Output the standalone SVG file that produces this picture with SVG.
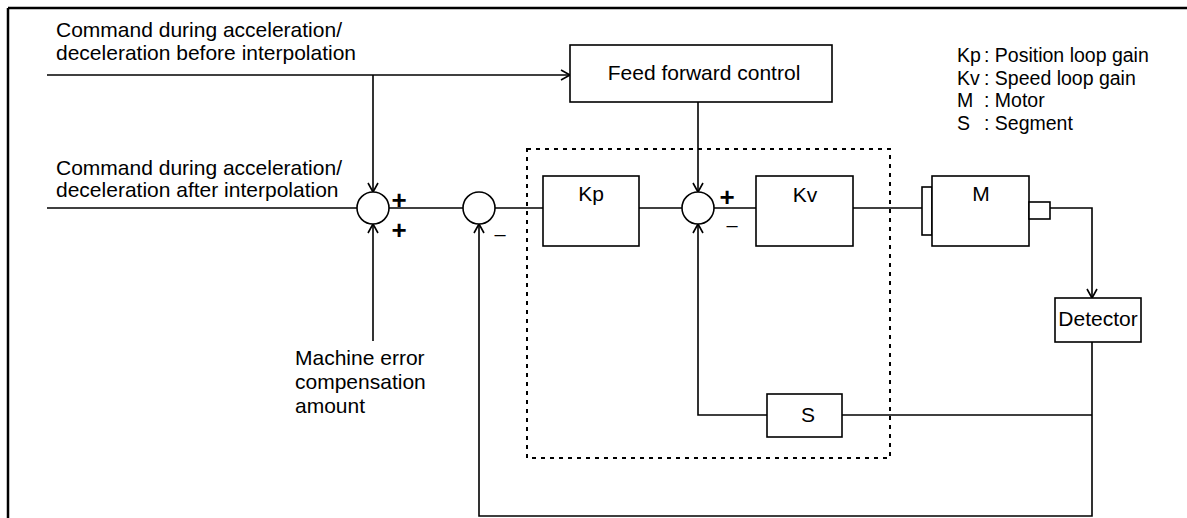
<svg xmlns="http://www.w3.org/2000/svg" width="1187" height="518" viewBox="0 0 1187 518">
<style>
text{font-family:"Liberation Sans",Arial,sans-serif;font-size:21px;fill:#000}
.c{text-anchor:middle}
.lg{font-size:19.5px}
.sg{font-weight:bold;font-size:26px;text-anchor:middle}
.mn{font-size:20px;text-anchor:middle}
.ln{fill:none;stroke:#000;stroke-width:1.6}
.bx{fill:#fff;stroke:#000;stroke-width:1.6}
.ar{fill:none;stroke:#000;stroke-width:1.6}
</style>
<defs>
<marker id="ah" markerWidth="12" markerHeight="12" refX="10" refY="6" orient="auto" markerUnits="userSpaceOnUse">
<path d="M1,1 L10,6 L1,11" fill="none" stroke="#000" stroke-width="1.6"/>
</marker>
</defs>
<g id="frame">
<path d="M8,8 H1187 M8,8 V518" fill="none" stroke="#000" stroke-width="2.5"/>
</g>
<g id="labels">
<text x="56" y="37">Command during acceleration/</text>
<text x="56" y="60">deceleration before interpolation</text>
<text x="56" y="175">Command during acceleration/</text>
<text x="56" y="197">deceleration after interpolation</text>
<text x="295" y="365">Machine error</text>
<text x="295" y="389">compensation</text>
<text x="295" y="413">amount</text>
</g>
<g id="legend">
<text class="lg"><tspan x="957" y="62">Kp</tspan><tspan x="984" y="62">: Position loop gain</tspan><tspan x="957" y="84.5">Kv</tspan><tspan x="984" y="84.5">: Speed loop gain</tspan><tspan x="957" y="107">M</tspan><tspan x="984" y="107">: Motor</tspan><tspan x="957" y="129.5">S</tspan><tspan x="984" y="129.5">: Segment</tspan></text>
</g>
<g id="controller-boundary">
<rect x="527" y="149" width="363" height="309" fill="none" stroke="#000" stroke-width="2" stroke-dasharray="4 5"/>
</g>
<g id="connectors">
<path class="ar" d="M47,75 H570" marker-end="url(#ah)"/>
<path class="ar" d="M373,75 V192" marker-end="url(#ah)"/>
<path class="ln" d="M47,208 H357"/>
<path class="ar" d="M373,341 V224" marker-end="url(#ah)"/>
<path class="ln" d="M389,208 H463"/>
<path class="ln" d="M495,208 H543"/>
<path class="ln" d="M639,208 H682"/>
<path class="ar" d="M698,102 V192" marker-end="url(#ah)"/>
<path class="ln" d="M714,208 H756"/>
<path class="ln" d="M853,208 H922"/>
<path class="ar" d="M1050,208 H1092 V298" marker-end="url(#ah)"/>
<path class="ar" d="M1092,342 V516 H479 V224" marker-end="url(#ah)"/>
<path class="ln" d="M1092,415 H842"/>
<path class="ar" d="M767,415 H698 V224" marker-end="url(#ah)"/>
</g>
<g id="ffc">
<rect class="bx" x="570" y="45" width="262" height="57"/>
<text class="c" x="704" y="80">Feed forward control</text>
</g>
<g id="sum1">
<circle class="bx" cx="373" cy="208" r="16"/>
<text class="sg" x="399" y="209">+</text>
<text class="sg" x="399" y="239">+</text>
</g>
<g id="sum2">
<circle class="bx" cx="479" cy="208" r="16"/>
<text class="mn" x="500" y="241">–</text>
</g>
<g id="sum3">
<circle class="bx" cx="698" cy="208" r="16"/>
<text class="sg" x="727" y="206">+</text>
<text class="mn" x="732" y="232">–</text>
</g>
<g id="kp">
<rect class="bx" x="543" y="176" width="96" height="70"/>
<text class="c" x="591" y="201">Kp</text>
</g>
<g id="kv">
<rect class="bx" x="756" y="176" width="97" height="70"/>
<text class="c" x="805" y="202">Kv</text>
</g>
<g id="motor">
<rect class="bx" x="922" y="187" width="10" height="48"/>
<rect class="bx" x="932" y="176" width="97" height="70"/>
<rect class="bx" x="1029" y="202" width="21" height="17"/>
<text class="c" x="981" y="201">M</text>
</g>
<g id="detector">
<rect class="bx" x="1055" y="298" width="86" height="44"/>
<text class="c" x="1098" y="326">Detector</text>
</g>
<g id="segment">
<rect class="bx" x="767" y="394" width="75" height="43"/>
<text class="c" x="808" y="422">S</text>
</g>
</svg>
